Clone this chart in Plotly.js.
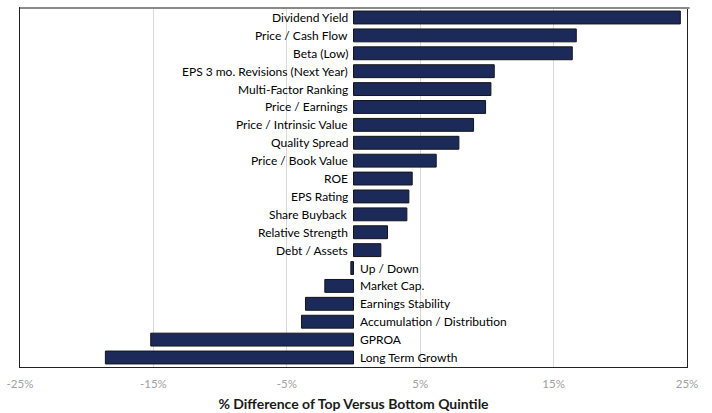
<!DOCTYPE html>
<html>
<head>
<meta charset="utf-8">
<script src="https://cdn.plot.ly/plotly-3.0.1.min.js"></script>
<style>
html,body{margin:0;padding:0;background:#fff;}
#chart{width:712px;height:413px;}
</style>
</head>
<body>
<div id="chart"></div>
<script>
const factors = [
  "Dividend Yield","Price / Cash Flow","Beta (Low)","EPS 3 mo. Revisions (Next Year)",
  "Multi-Factor Ranking","Price / Earnings","Price / Intrinsic Value","Quality Spread",
  "Price / Book Value","ROE","EPS Rating","Share Buyback","Relative Strength",
  "Debt / Assets","Up / Down","Market Cap.","Earnings Stability",
  "Accumulation / Distribution","GPROA","Long Term Growth"
];
const diffPct = [
  24.5, 16.7, 16.4, 10.55, 10.3, 9.9, 9.0, 7.9, 6.2, 4.4, 4.15, 4.0, 2.55,
  2.05, -0.2, -2.15, -3.6, -3.9, -15.2, -18.6
];
const tickVals = [-25, -15, -5, 5, 15, 25];
const tickText = ["-25%", "-15%", "-5%", "5%", "15%", "25%"];
const axisTitle = "% Difference of Top Versus Bottom Quintile";

const trace = {
  type: "bar",
  orientation: "h",
  x: diffPct,
  y: factors,
  marker: { color: "#1c2a59", line: { color: "#151515", width: 1 } },
  hoverinfo: "skip"
};

const annotations = factors.map((f, i) => ({
  x: 0, y: f, xref: "x", yref: "y",
  text: f, showarrow: false,
  xanchor: diffPct[i] >= 0 ? "right" : "left",
  xshift: diffPct[i] >= 0 ? -4 : 4,
  font: { family: "Lato, 'Open Sans', sans-serif", size: 12, color: "#000" }
}));

const layout = {
  width: 712, height: 413,
  margin: { l: 20, r: 25, t: 8, b: 46 },
  paper_bgcolor: "#fff", plot_bgcolor: "#fff",
  showlegend: false,
  bargap: 0.28,
  xaxis: {
    range: [-25, 25],
    tickvals: tickVals, ticktext: tickText,
    showgrid: true, gridcolor: "#d9d9d9", gridwidth: 1,
    zeroline: false,
    showline: true, linecolor: "#222", linewidth: 1.2, mirror: true,
    ticks: "outside", ticklen: 6, tickcolor: "rgba(0,0,0,0)",
    tickfont: { family: "Lato, 'Open Sans', sans-serif", size: 11.5, color: "#a0a0a0" },
    title: { text: axisTitle, standoff: 10,
      font: { family: "Lato, 'Open Sans', sans-serif", size: 14, color: "#1a1a1a", weight: "bold" } }
  },
  yaxis: {
    type: "category",
    categoryorder: "array", categoryarray: factors,
    autorange: "reversed",
    showticklabels: false, ticks: "",
    showgrid: false, zeroline: false,
    showline: true, linecolor: "#222", linewidth: 1.2, mirror: true
  },
  annotations: annotations,
  shapes: [{
    type: "line", xref: "paper", yref: "paper",
    x0: 0, x1: 1.004, y0: 1, y1: 1,
    line: { color: "#8a8a8a", width: 2 }
  }]
};

Plotly.newPlot("chart", [trace], layout, { displayModeBar: false, staticPlot: true });
</script>
</body>
</html>
